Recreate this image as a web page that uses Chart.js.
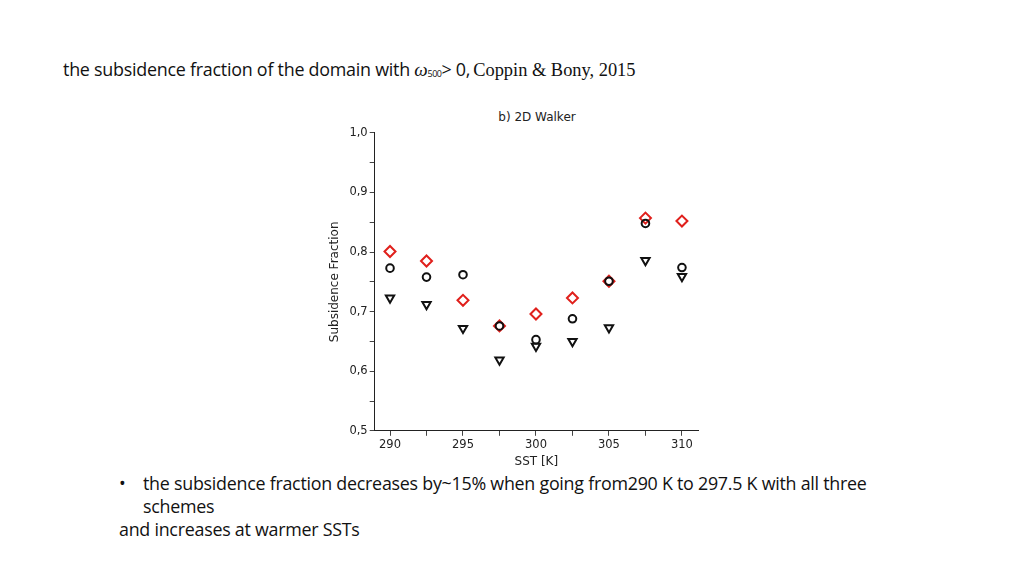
<!DOCTYPE html>
<html>
<head>
<meta charset="utf-8">
<script src="https://cdn.jsdelivr.net/npm/chart.js@4/dist/chart.umd.min.js"></script>
<style>
  html, body { margin: 0; padding: 0; background: #fff; width: 1024px; height: 576px; overflow: hidden; }
  .heading { position: absolute; left: 63px; top: 57px; font-family: 'Open Sans', sans-serif; font-size: 17.9px; color: #111; white-space: nowrap; letter-spacing: -0.25px; }
  .heading .om { font-family: 'Liberation Serif', serif; font-style: italic; font-size: 19px; }
  .heading sub { font-size: 9px; vertical-align: -1px; letter-spacing: -0.5px; }
  .heading .ser { font-family: 'Liberation Serif', serif; font-size: 18.4px; letter-spacing: 0; margin-left: 3px; }
  .notes { position: absolute; left: 119px; top: 472px; font-family: 'Open Sans', sans-serif; font-size: 17.85px; line-height: 23px; color: #111; letter-spacing: -0.25px; }
  .notes .bul { padding-left: 24px; text-indent: -24px; width: 745px; }
  .notes .bul b { display: inline-block; width: 24px; text-indent: 0; font-weight: normal; }
  .ctitle { position: absolute; left: 437px; width: 200px; top: 110px; text-align: center; font-family: 'DejaVu Sans', sans-serif; font-size: 12px; color: #222; }
  #wrap { position: absolute; left: 328px; top: 124px; width: 378px; height: 345px; }
</style>
</head>
<body>
<div class="heading">the subsidence fraction of the domain with <span class="om">ω</span><sub>500</sub>&gt; 0,<span class="ser">Coppin &amp; Bony, 2015</span></div>
<div class="ctitle">b) 2D Walker</div>
<div id="wrap"><canvas id="c"></canvas></div>
<div class="notes">
  <div class="bul"><b>•</b>the subsidence fraction decreases by~15% when going from290 K to 297.5 K with all three schemes</div>
  <div>and increases at warmer SSTs</div>
</div>
<script>
const sst = [290, 292.5, 295, 297.5, 300, 302.5, 305, 307.5, 310];
const diamonds = [0.801, 0.785, 0.719, 0.676, 0.696, 0.723, 0.751, 0.857, 0.852];
const circles = [0.773, 0.758, 0.762, 0.676, 0.653, 0.688, 0.751, 0.848, 0.774];
const triangles = [0.723, 0.712, 0.672, 0.619, 0.642, 0.650, 0.673, 0.786, 0.759];
const xTicks = [290, 292.5, 295, 297.5, 300, 302.5, 305, 307.5, 310];
const xLabels = ['290', '', '295', '', '300', '', '305', '', '310'];
const yTicks = [0.5, 0.55, 0.6, 0.65, 0.7, 0.75, 0.8, 0.85, 0.9, 0.95, 1.0];
const yLabels = ['0,5', '', '0,6', '', '0,7', '', '0,8', '', '0,9', '', '1,0'];

const pts = (ys) => sst.map((x, i) => ({ x: x, y: ys[i] }));
const font = { family: 'DejaVu Sans', size: 11.5 };

new Chart(document.getElementById('c'), {
  type: 'scatter',
  data: {
    datasets: [
      { label: 'diamond', data: pts(diamonds), pointStyle: 'rectRot', pointRadius: 5.5, borderColor: '#e0201c', backgroundColor: 'rgba(0,0,0,0)', borderWidth: 2, order: 1 },
      { label: 'circle', data: pts(circles), pointStyle: 'circle', pointRadius: 3.8, borderColor: '#111', backgroundColor: 'rgba(0,0,0,0)', borderWidth: 2, order: 0 },
      { label: 'triangle', data: pts(triangles), pointStyle: 'triangle', rotation: 180, pointRadius: 4.8, borderColor: '#111', backgroundColor: 'rgba(0,0,0,0)', borderWidth: 2, order: 2 }
    ]
  },
  options: {
    responsive: true,
    maintainAspectRatio: false,
    animation: false,
    layout: { padding: { left: 0, right: 8, top: 0, bottom: 0 } },
    plugins: {
      legend: { display: false },
      tooltip: { enabled: false }
    },
    scales: {
      x: {
        type: 'linear', min: 288.95, max: 311.1,
        afterBuildTicks: (s) => { s.ticks = xTicks.map(v => ({ value: v })); },
        border: { display: true, color: '#222', width: 1 },
        grid: { drawOnChartArea: false, drawTicks: true, tickLength: 5, color: '#444' },
        ticks: { font: font, color: '#222', padding: 2, maxRotation: 0, autoSkip: false,
          callback: (v) => xLabels[xTicks.indexOf(v)] ?? '' },
        title: { display: true, text: 'SST [K]', color: '#222', font: { family: 'DejaVu Sans', size: 12 }, padding: { top: 1, bottom: 0 } }
      },
      y: {
        type: 'linear', min: 0.5, max: 1.0,
        afterBuildTicks: (s) => { s.ticks = yTicks.map(v => ({ value: v })); },
        border: { display: true, color: '#222', width: 1 },
        grid: { drawOnChartArea: false, drawTicks: true, tickLength: 5, color: '#444' },
        ticks: { font: font, color: '#222', padding: 2, autoSkip: false,
          callback: (v) => { const i = yTicks.findIndex(t => Math.abs(t - v) < 1e-6); return i >= 0 ? yLabels[i] : ''; } },
        title: { display: true, text: 'Subsidence Fraction', color: '#222', font: { family: 'DejaVu Sans', size: 12 }, padding: { top: 0, bottom: 5 } }
      }
    }
  }
});
</script>
</body>
</html>
